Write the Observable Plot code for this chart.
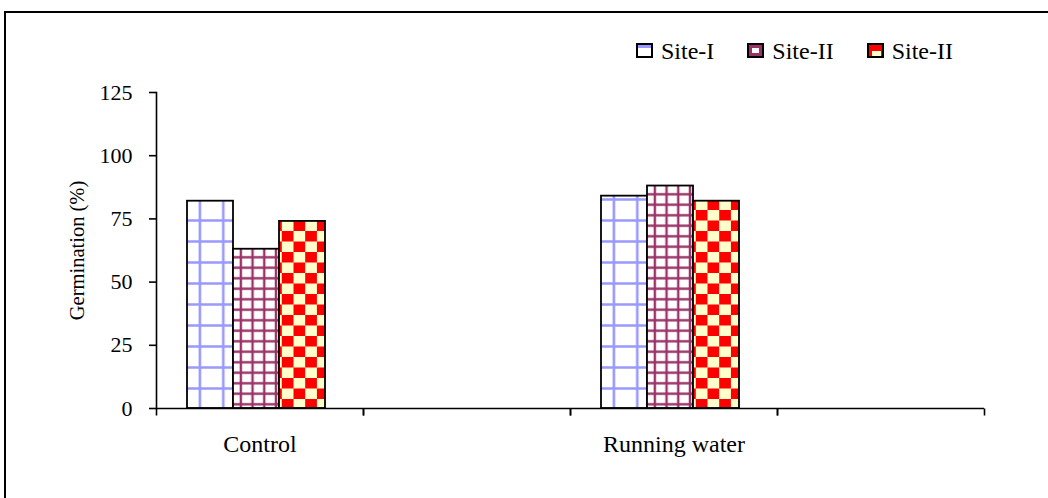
<!DOCTYPE html>
<html>
<head>
<meta charset="utf-8">
<script src="https://cdn.jsdelivr.net/npm/d3@7"></script>
<script src="https://cdn.jsdelivr.net/npm/@observablehq/plot@0.6"></script>
<style>
  html, body { margin: 0; padding: 0; background: #fff; }
  #chart { position: relative; width: 1048px; height: 498px; overflow: hidden;
           font-family: "Liberation Serif", "Times New Roman", serif; color: #000; }
  #border { position: absolute; left: 4px; top: 11px; width: 1200px; height: 700px;
            border-left: 2px solid #000; border-top: 2px solid #000; box-sizing: border-box; }
  #legend { position: absolute; top: 37px; left: 636px; display: flex; align-items: flex-start;
            font-size: 24px; line-height: 28px; }
  .item { display: flex; align-items: flex-start; margin-right: 33px; }
  .item svg { margin-top: 6px; display: block; }
  .item span { margin-left: 8px; white-space: nowrap; }
</style>
</head>
<body>
<!-- fill patterns shared by the bars -->
<svg width="0" height="0" style="position:absolute">
  <defs>
    <pattern id="fill-0" patternUnits="userSpaceOnUse" width="23.4" height="21">
      <rect width="23.4" height="21" fill="#fff"/>
      <path d="M0 10.5H23.4M11.7 0V21" stroke="#9999FF" stroke-width="2.6" fill="none"/>
    </pattern>
    <pattern id="fill-1" patternUnits="userSpaceOnUse" width="11.7" height="10.5">
      <rect width="11.7" height="10.5" fill="#fff"/>
      <path d="M0 5.25H11.7M5.85 0V10.5" stroke="#993366" stroke-width="2.4" fill="none"/>
    </pattern>
    <pattern id="fill-2" patternUnits="userSpaceOnUse" width="23.4" height="21">
      <rect width="23.4" height="21" fill="#FFFFCC"/>
      <rect x="0" y="0" width="11.7" height="10.5" fill="#FF0000"/>
      <rect x="11.7" y="10.5" width="11.7" height="10.5" fill="#FF0000"/>
    </pattern>
  </defs>
</svg>
<div id="chart">
  <div id="border"></div>
  <div id="legend"></div>
</div>
<script>
// Treatments along the x axis; the two blank categories have no values
const categories = ["Control", "spacer-a", "Running water", "spacer-b"];
const categoryLabels = ["Control", "", "Running water", ""];

// Series (sites) and their legend labels
const siteKeys = ["Site-I", "Site-II", "Site-III"];
const siteLabels = ["Site-I", "Site-II", "Site-II"];

// Germination (%) per site for each category (null = no measurement)
const controlValues = [82, 63, 74];
const spacerAValues = [null, null, null];
const runningWaterValues = [84, 88, 82];
const spacerBValues = [null, null, null];

const yTicks = [0, 25, 50, 75, 100, 125];

const valuesByCategory = [controlValues, spacerAValues, runningWaterValues, spacerBValues];
const data = categories.flatMap((cat, c) =>
  siteKeys.map((site, i) => ({cat, site, value: valuesByCategory[c][i]}))
);

const fills = siteKeys.map((_, i) => `url(#fill-${i})`);

// small downward tick used at the category boundaries
const downTick = {draw(context) { context.moveTo(0, 0); context.lineTo(0, 7); }};

const plot = Plot.plot({
  width: 1048,
  height: 498,
  marginLeft: 155,
  marginRight: 63,
  marginTop: 92,
  marginBottom: 90,
  style: {fontFamily: "'Liberation Serif', 'Times New Roman', serif", color: "#000", background: "transparent", overflow: "visible"},
  fx: {domain: categories, padding: 0},
  x: {domain: siteKeys, paddingInner: 0, paddingOuter: 0.72, align: 0.45, axis: null},
  y: {domain: [0, 125]},
  color: {domain: siteKeys, range: fills},
  marks: [
    Plot.barY(data, {fx: "cat", x: "site", y: "value", fill: "site", stroke: "#000", strokeWidth: 1.8}),
    Plot.ruleY([0], {stroke: "#000", strokeWidth: 1.6}),
    Plot.frame({anchor: "left", facetAnchor: "left", stroke: "#000", strokeWidth: 1.6}),
    Plot.axisY({ticks: yTicks, tickSize: 7, tickPadding: 17, fontSize: 22, label: null,
                stroke: "#000", strokeWidth: 1.6, facetAnchor: "left"}),
    Plot.axisFx({anchor: "bottom", tickSize: 0, tickPadding: 26, fontSize: 24, label: null,
                 tickFormat: (d) => categoryLabels[categories.indexOf(d)]}),
    Plot.dot([0], {frameAnchor: "bottom-left", symbol: downTick, stroke: "#000", fill: "none", strokeWidth: 1.6}),
    Plot.dot([0], {frameAnchor: "bottom-right", symbol: downTick, stroke: "#000", fill: "none", strokeWidth: 1.6}),
    Plot.text(["Germination (%)"], {frameAnchor: "left", facetAnchor: "left", rotate: -90, dx: -79,
                                    textAnchor: "middle", lineAnchor: "middle", fontSize: 20.5, fill: "#000"})
  ]
});

document.getElementById("chart").appendChild(plot);

// Legend: one swatch per site
const swatches = [
  `<svg width="17" height="15"><rect x="1" y="1" width="15" height="13" fill="#fff" stroke="#000" stroke-width="2"/><rect x="2" y="2" width="13" height="3" fill="#9999FF"/></svg>`,
  `<svg width="17" height="15"><rect x="1" y="1" width="15" height="13" fill="#fff" stroke="#000" stroke-width="2"/><rect x="3.5" y="3.5" width="10" height="8" fill="#fff" stroke="#993366" stroke-width="3"/></svg>`,
  `<svg width="17" height="15"><rect x="1" y="1" width="15" height="13" fill="#FF0000" stroke="#000" stroke-width="2"/><rect x="5" y="8" width="9" height="5" fill="#FFFFCC"/></svg>`
];
const legend = document.getElementById("legend");
siteLabels.forEach((label, i) => {
  const item = document.createElement("div");
  item.className = "item";
  item.innerHTML = swatches[i] + `<span>${label}</span>`;
  legend.appendChild(item);
});
</script>
</body>
</html>
